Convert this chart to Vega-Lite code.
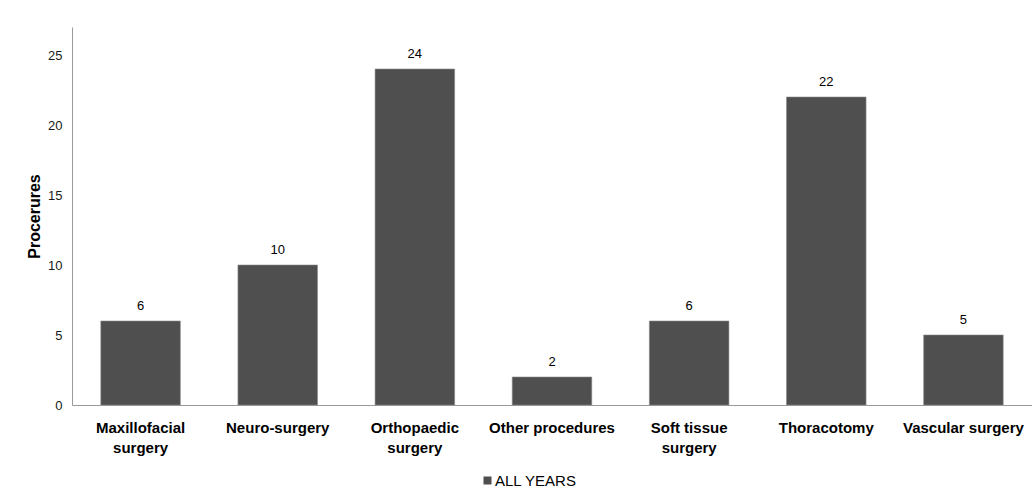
{
  "$schema": "https://vega.github.io/schema/vega-lite/v6.json",
  "width": 960,
  "height": 378,
  "autosize": {"type": "none"},
  "padding": {"left": 72, "top": 27, "right": 0, "bottom": 95},
  "background": "white",
  "config": {
    "font": "Liberation Sans",
    "view": {"stroke": null},
    "axis": {"grid": false, "ticks": false, "domainColor": "#9a9a9a", "labelColor": "#1a1a1a", "titleColor": "#000000"}
  },
  "data": {
    "values": [
      {"category": "Maxillofacial surgery", "value": 6, "series": "ALL YEARS"},
      {"category": "Neuro-surgery", "value": 10, "series": "ALL YEARS"},
      {"category": "Orthopaedic surgery", "value": 24, "series": "ALL YEARS"},
      {"category": "Other procedures", "value": 2, "series": "ALL YEARS"},
      {"category": "Soft tissue surgery", "value": 6, "series": "ALL YEARS"},
      {"category": "Thoracotomy", "value": 22, "series": "ALL YEARS"},
      {"category": "Vascular surgery", "value": 5, "series": "ALL YEARS"}
    ]
  },
  "encoding": {
    "x": {
      "field": "category",
      "type": "nominal",
      "sort": null,
      "scale": {"paddingInner": 0.42, "paddingOuter": 0.21},
      "axis": {
        "title": null,
        "labelAngle": 0,
        "labelFontSize": 15,
        "labelFontWeight": "bold",
        "labelColor": "#000000",
        "labelPadding": 15,
        "labelLineHeight": 20,
        "labelBaseline": "top",
        "labelExpr": "datum.value == 'Maxillofacial surgery' ? ['Maxillofacial', 'surgery'] : datum.value == 'Orthopaedic surgery' ? ['Orthopaedic', 'surgery'] : datum.value == 'Soft tissue surgery' ? ['Soft tissue', 'surgery'] : datum.value"
      }
    },
    "y": {
      "field": "value",
      "type": "quantitative",
      "scale": {"domain": [0, 27], "nice": false},
      "axis": {
        "title": "Procerures",
        "titleFontSize": 16,
        "titleFontWeight": "bold",
        "titlePadding": 5,
        "labelFontSize": 13,
        "labelPadding": 10,
        "values": [0, 5, 10, 15, 20, 25]
      }
    }
  },
  "layer": [
    {
      "mark": {"type": "bar", "stroke": "#8a8a8a", "strokeWidth": 0.6},
      "encoding": {
        "color": {
          "field": "series",
          "type": "nominal",
          "scale": {"range": ["#4f4f4f"]},
          "legend": {
            "title": null,
            "orient": "none",
            "legendX": 408,
            "legendY": 446,
            "symbolType": "square",
            "symbolSize": 64,
            "symbolStrokeWidth": 0,
            "labelFontSize": 15,
            "labelColor": "#000000",
            "labelOffset": 0
          }
        }
      }
    },
    {
      "mark": {"type": "text", "baseline": "bottom", "dy": -8, "fontSize": 13, "color": "#000000"},
      "encoding": {"text": {"field": "value", "type": "quantitative"}}
    }
  ]
}
